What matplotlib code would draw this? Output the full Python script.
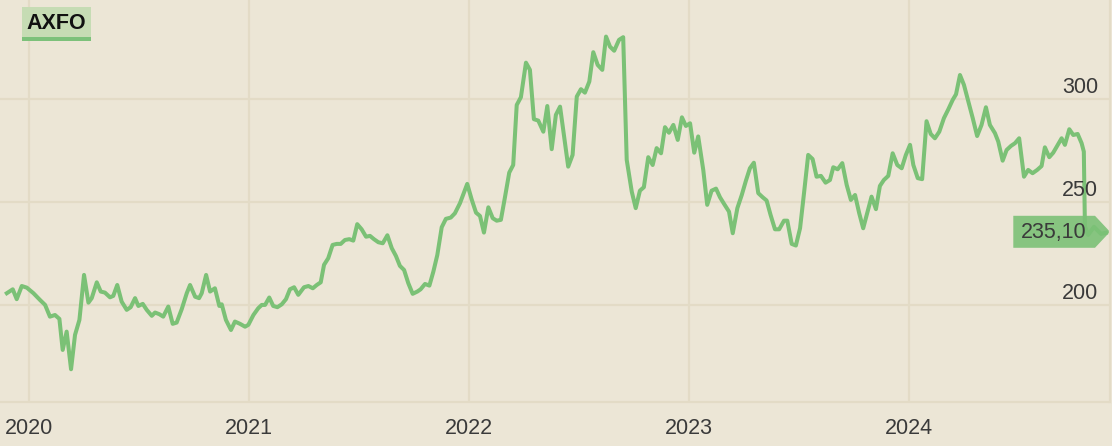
import matplotlib
matplotlib.use("Agg")
import matplotlib.pyplot as plt
from matplotlib.patches import Polygon, Rectangle
from matplotlib.transforms import IdentityTransform

plt.rcParams['font.family'] = ['Liberation Sans', 'DejaVu Sans']

TICKER = "AXFO"

# weekly closes, dates as decimal years
dates = [
    2019.899, 2019.926, 2019.944, 2019.967, 2019.990,
    2020.020, 2020.050, 2020.073, 2020.095, 2020.118, 2020.138, 2020.153, 2020.171, 2020.191, 2020.209,
    2020.229, 2020.250, 2020.270, 2020.285, 2020.308, 2020.326, 2020.345, 2020.368, 2020.383, 2020.401,
    2020.421, 2020.444, 2020.462, 2020.482, 2020.497, 2020.517, 2020.535, 2020.558, 2020.573, 2020.592,
    2020.610, 2020.633, 2020.653, 2020.671, 2020.694, 2020.717, 2020.732, 2020.755, 2020.773, 2020.785,
    2020.805, 2020.823, 2020.845, 2020.865, 2020.876, 2020.895, 2020.918, 2020.936, 2020.959, 2020.982,
    2020.997,
    2021.020, 2021.042, 2021.058, 2021.073, 2021.092, 2021.110, 2021.129, 2021.149, 2021.168, 2021.186,
    2021.205, 2021.224, 2021.250, 2021.270, 2021.290, 2021.308, 2021.326, 2021.341, 2021.360, 2021.380,
    2021.399, 2021.417, 2021.436, 2021.456, 2021.474, 2021.492, 2021.512, 2021.532, 2021.550, 2021.568,
    2021.588, 2021.608, 2021.629, 2021.649, 2021.668, 2021.686, 2021.705, 2021.724, 2021.744, 2021.765,
    2021.780, 2021.800, 2021.820, 2021.838, 2021.856, 2021.876, 2021.895, 2021.917, 2021.936, 2021.959,
    2021.992,
    2022.012, 2022.032, 2022.050, 2022.068, 2022.088, 2022.108, 2022.126, 2022.145, 2022.164, 2022.183,
    2022.201, 2022.217, 2022.236, 2022.259, 2022.277, 2022.295, 2022.315, 2022.338, 2022.356, 2022.376,
    2022.395, 2022.414, 2022.451, 2022.471, 2022.490, 2022.509, 2022.527, 2022.547, 2022.565, 2022.585,
    2022.606, 2022.623, 2022.641, 2022.660, 2022.682, 2022.701, 2022.717, 2022.740, 2022.758, 2022.777,
    2022.795, 2022.815, 2022.835, 2022.853, 2022.873, 2022.891, 2022.909, 2022.929, 2022.949, 2022.968,
    2022.986,
    2023.005, 2023.024, 2023.042, 2023.065, 2023.083, 2023.103, 2023.123, 2023.141, 2023.160, 2023.182,
    2023.199, 2023.220, 2023.240, 2023.259, 2023.277, 2023.295, 2023.315, 2023.335, 2023.353, 2023.371,
    2023.391, 2023.410, 2023.432, 2023.447, 2023.467, 2023.486, 2023.505, 2023.523, 2023.542, 2023.562,
    2023.580, 2023.600, 2023.621, 2023.641, 2023.656, 2023.676, 2023.697, 2023.717, 2023.736, 2023.755,
    2023.774, 2023.792, 2023.812, 2023.830, 2023.850, 2023.868, 2023.886, 2023.906, 2023.926, 2023.947,
    2023.967, 2023.986,
    2024.005, 2024.020, 2024.040, 2024.060, 2024.080, 2024.099, 2024.118, 2024.138, 2024.159, 2024.179,
    2024.199, 2024.214, 2024.232, 2024.250, 2024.270, 2024.290, 2024.310, 2024.330, 2024.350, 2024.368,
    2024.391, 2024.406, 2024.426, 2024.444, 2024.464, 2024.482, 2024.501, 2024.523, 2024.542, 2024.562,
    2024.583, 2024.603, 2024.618, 2024.638, 2024.656, 2024.674, 2024.694, 2024.709, 2024.729, 2024.747,
    2024.767, 2024.785, 2024.795, 2024.800, 2024.815, 2024.841, 2024.873, 2024.895,
]

close = [
    205.7, 207.6, 202.8, 209.2, 208.4,
    205.7, 202.4, 200.0, 194.3, 195.1, 193.2, 178.1, 187.0, 168.7, 185.4,
    192.7, 214.6, 201.1, 203.3, 211.0, 206.5, 206.0, 203.7, 204.4, 209.7,
    201.6, 197.6, 198.9, 203.3, 199.5, 200.5, 197.6, 194.7, 196.3, 195.5,
    194.3, 199.2, 190.8, 191.4, 197.9, 205.7, 209.7, 204.0, 203.3, 205.7,
    214.6, 206.5, 208.1, 199.5, 200.3, 192.7, 187.8, 191.9, 190.8, 189.4,
    190.3,
    195.1, 198.4, 200.0, 200.0, 203.6, 199.5, 198.9, 200.3, 202.8, 207.6,
    208.6, 204.9, 208.6, 209.2, 208.1, 209.7, 211.0, 219.5, 222.7, 229.2,
    229.7, 229.7, 231.6, 232.0, 231.3, 239.3, 236.8, 233.2, 233.6, 232.0,
    230.5, 230.0, 233.9, 227.6, 223.8, 219.0, 217.0, 210.6, 205.4, 206.5,
    207.6, 210.2, 209.4, 216.2, 224.3, 237.8, 241.9, 242.5, 244.6, 249.5,
    258.9,
    251.4, 244.9, 243.3, 235.2, 247.5, 242.2, 241.0, 241.4, 252.7, 264.4,
    268.1, 297.3, 301.1, 317.9, 314.4, 290.4, 289.7, 284.3, 296.8, 275.8,
    292.5, 296.5, 267.3, 273.0, 301.4, 305.0, 303.3, 308.7, 323.0, 316.8,
    314.4, 330.6, 325.7, 323.7, 329.0, 330.3, 270.6, 255.1, 247.1, 255.6,
    257.3, 271.9, 268.1, 276.3, 273.8, 286.5, 283.8, 287.6, 280.3, 291.3,
    287.1,
    288.4, 274.1, 282.0, 265.7, 248.7, 255.6, 256.6, 252.4, 249.1, 245.4,
    234.9, 247.1, 253.5, 260.5, 266.5, 269.2, 254.4, 252.4, 250.8, 243.8,
    236.8, 236.8, 241.0, 241.0, 229.7, 228.9, 237.3, 254.4, 273.0, 271.0,
    262.4, 262.8, 259.5, 260.8, 267.0, 266.0, 269.0, 258.4, 251.1, 253.5,
    244.6, 237.3, 245.4, 252.7, 246.6, 257.9, 260.8, 262.8, 273.8, 268.1,
    266.5, 273.0,
    277.9, 268.1, 261.7, 261.2, 289.4, 283.2, 281.1, 284.3, 290.9, 295.2,
    299.8, 302.5, 311.9, 307.1, 298.9, 290.9, 282.2, 287.6, 296.2, 287.6,
    283.6, 279.5, 270.2, 275.4, 277.4, 278.7, 281.1, 262.4, 265.7, 264.1,
    265.7, 267.6, 276.7, 271.9, 274.1, 277.4, 281.1, 277.9, 285.5, 282.7,
    283.2, 278.7, 274.6, 238.1, 234.1, 238.0, 234.6, 235.1,
]

year_ticks = [2020, 2021, 2022, 2023, 2024]
price_ticks = [200, 250, 300]
last_price = close[-1]

BG = '#ece6d6'
GRID = '#e3dbc6'
LINE = '#7bc176'
TEXT = '#3a3a3a'

W, H = 1112, 446
fig = plt.figure(figsize=(W / 100, H / 100), dpi=100)
fig.patch.set_facecolor(BG)
ax = fig.add_axes([0, 44.3 / H, 1110 / W, 401.7 / H])
ax.set_facecolor(BG)

ax.plot(dates, close, color=LINE, lw=2.9, solid_joinstyle='round', zorder=3)

ax.set_xlim(2019.868, 2024.914)
ax.set_ylim(152.9, 348.4)

ax.set_xticks(year_ticks)
ax.set_xticklabels([str(y) for y in year_ticks])
ax.set_yticks(price_ticks)
ax.set_yticklabels([])
ax.tick_params(axis='x', length=0, pad=12, labelsize=15.5, labelcolor=TEXT)
ax.tick_params(axis='y', length=0)
ax.grid(True, color=GRID, lw=1.6)
ax.set_axisbelow(True)

for s in ['top', 'left']:
    ax.spines[s].set_visible(False)
for s in ['bottom', 'right']:
    ax.spines[s].set_color(GRID)
    ax.spines[s].set_linewidth(1.6)

# price labels sit above the gridlines, inside the plot on the right
for v in price_ticks:
    ax.annotate(str(v), xy=(1, v), xycoords=('axes fraction', 'data'),
                xytext=(-12, 6), textcoords='offset pixels',
                ha='right', va='baseline', fontsize=15.5, color=TEXT)

# last price tag, under the line
fig.canvas.draw()
_, cy = ax.transData.transform((dates[-1], last_price))
cy += 1
x0, x1, xt = 1013.3, 1095, 1110
hh = 16
tag = Polygon([(x0, cy + hh), (x1, cy + hh), (xt, cy), (x1, cy - hh), (x0, cy - hh)],
              closed=True, transform=IdentityTransform(), facecolor='#87c480',
              edgecolor='none', zorder=2, clip_on=False)
ax.add_patch(tag)
fig.text(1086 / W, (cy - 6.6) / H, f"{last_price:.2f}".replace('.', ','),
         ha='right', va='baseline', fontsize=15.5, color=TEXT, zorder=5)

# ticker badge
fig.patches.append(Rectangle((22 / W, (H - 37) / H), 69 / W, 30 / H,
                             transform=fig.transFigure, facecolor='#c6dcb4', edgecolor='none'))
fig.patches.append(Rectangle((22 / W, (H - 41) / H), 69 / W, 4 / H,
                             transform=fig.transFigure, facecolor='#7cc17a', edgecolor='none'))
fig.text(56.5 / W, (H - 29.3) / H, TICKER, ha='center', va='baseline',
         fontsize=15.5, fontweight='bold', color='#111111')

fig.savefig('out.png', dpi=100, facecolor=BG)
